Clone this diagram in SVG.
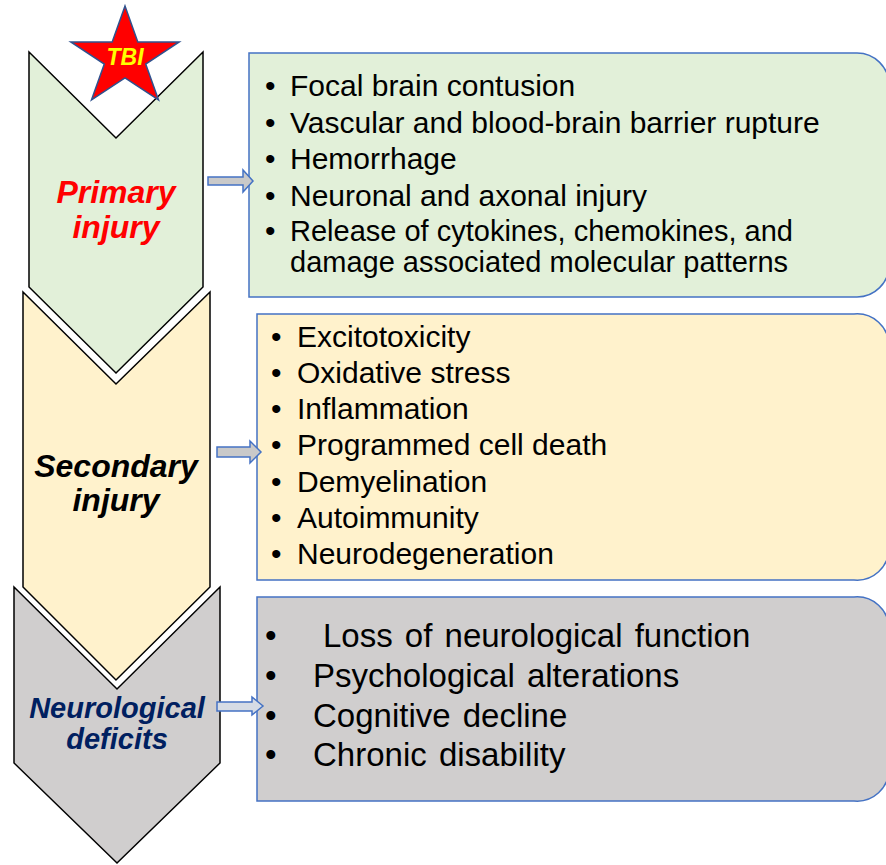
<svg xmlns="http://www.w3.org/2000/svg" width="886" height="865" viewBox="0 0 886 865">
<style>
.chev{stroke:#000;stroke-width:1.5;stroke-linejoin:miter}
.box{stroke:#4472C4;stroke-width:1.5}
.arr{stroke:#4472C4;stroke-width:1.5;stroke-linejoin:miter}
.lbl{font-family:"Liberation Sans",Arial,sans-serif;font-weight:bold;font-style:italic;text-anchor:middle}
.itm{font-family:"Liberation Sans",Arial,sans-serif;fill:#000}
.g{font-size:30px}
.k{font-size:33px;word-spacing:3px}
</style>
<rect width="886" height="865" fill="#fff"/>
<g id="primary">
<path class="chev" fill="#E2F0D9" d="M29,52 L116,138 L203,52 L203,287 L116,373 L29,287 Z"/>
<text class="lbl" x="116" y="203" font-size="32" fill="#FF0000">Primary</text>
<text class="lbl" x="116" y="238" font-size="32" fill="#FF0000">injury</text>
</g>
<g id="tbi">
<polygon fill="#FF0000" stroke="#2F528F" stroke-width="1.5" points="125,6 137.8,42 179.2,42 145.7,64.1 158.5,100 125,77.9 91.5,100 104.3,64.1 70.8,42 112.2,42"/>
<text class="lbl" x="125" y="65" font-size="23" fill="#FFFF00">TBI</text>
</g>
<g id="secondary">
<path class="chev" fill="#FFF2CC" d="M23,292 L116,384 L210,292 L210,587 L116,680 L23,587 Z"/>
<text class="lbl" x="116" y="477" font-size="32" fill="#000">Secondary</text>
<text class="lbl" x="116" y="511" font-size="32" fill="#000">injury</text>
</g>
<g id="neuro">
<path class="chev" fill="#D0CECE" d="M14,587 L117,689 L220,587 L220,763 L117,863 L14,763 Z"/>
<text class="lbl" x="117" y="718" font-size="29" fill="#002060">Neurological</text>
<text class="lbl" x="117" y="749" font-size="29" fill="#002060">deficits</text>
</g>
<g id="box-primary">
<path class="box" fill="#E2F0D9" d="M249,53 H857 A32,32 0 0 1 889,85 V265 A32,32 0 0 1 857,297 H249 Z"/>
<g class="itm g">
<text x="265" y="96">•</text><text x="290" y="96">Focal brain contusion</text>
<text x="265" y="133">•</text><text x="290" y="133">Vascular and blood-brain barrier rupture</text>
<text x="265" y="169">•</text><text x="290" y="169">Hemorrhage</text>
<text x="265" y="206">•</text><text x="290" y="206">Neuronal and axonal injury</text>
<text x="265" y="241">•</text><text x="290" y="241" font-size="29">Release of cytokines, chemokines, and</text>
<text x="290" y="272" font-size="29">damage associated molecular patterns</text>
</g>
</g>
<g id="box-secondary">
<path class="box" fill="#FFF2CC" d="M257,314 H854 A32,32 0 0 1 889,346 V548 A32,32 0 0 1 854,580 H257 Z"/>
<g class="itm g">
<text x="271" y="347">•</text><text x="297" y="347">Excitotoxicity</text>
<text x="271" y="383">•</text><text x="297" y="383">Oxidative stress</text>
<text x="271" y="419">•</text><text x="297" y="419">Inflammation</text>
<text x="271" y="455">•</text><text x="297" y="455">Programmed cell death</text>
<text x="271" y="492">•</text><text x="297" y="492">Demyelination</text>
<text x="271" y="528">•</text><text x="297" y="528">Autoimmunity</text>
<text x="271" y="564">•</text><text x="297" y="564">Neurodegeneration</text>
</g>
</g>
<g id="box-neuro">
<path class="box" fill="#D0CECE" d="M257,597 H854 A32,32 0 0 1 889,629 V769 A32,32 0 0 1 854,801 H257 Z"/>
<g class="itm k">
<text x="265" y="647">•</text><text x="323" y="647">Loss of neurological function</text>
<text x="265" y="687">•</text><text x="313" y="687">Psychological alterations</text>
<text x="265" y="727">•</text><text x="313" y="727">Cognitive decline</text>
<text x="265" y="766">•</text><text x="313" y="766">Chronic disability</text>
</g>
</g>
<g id="connectors">
<path class="arr" fill="#C9C9C9" d="M208,177 H243 V170 L253,181 L243,192 V185 H208 Z"/>
<path class="arr" fill="#C9C9C9" d="M217,447 H250 V441 L261,452 L250,463 V457 H217 Z"/>
<path class="arr" fill="#D6DCE5" d="M217,702 H252 V697 L263,706 L252,715 V711 H217 Z"/>
</g>
</svg>
